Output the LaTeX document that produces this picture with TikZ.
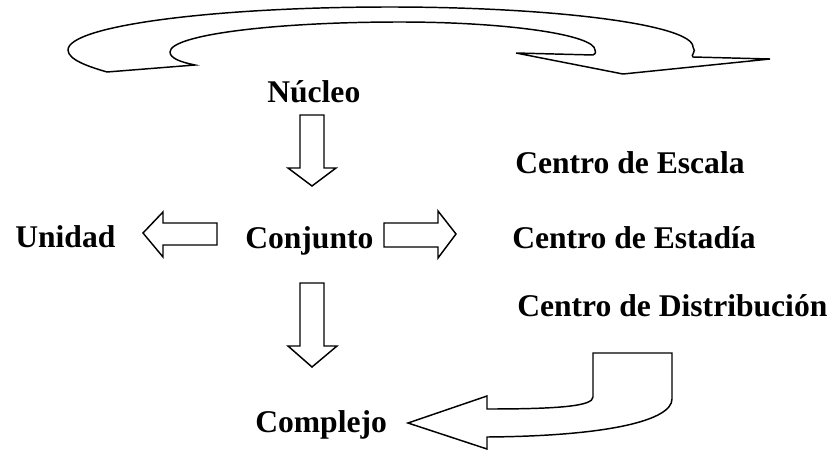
\documentclass[tikz,border=0pt]{standalone}
\usepackage{fontspec}
\setmainfont{Liberation Serif}
\tikzset{
	etiqueta/.style={font=\fontsize{23.7}{28}\selectfont\bfseries, inner sep=0pt, anchor=base west},
	flecha/.style={draw=black, fill=white, line width=1.1pt, line join=miter}
}
\begin{document}
\begin{tikzpicture}[x=0.75pt, y=-0.75pt]
	\useasboundingbox (0,0) rectangle (835,450);
	
	%Textos
	\node[etiqueta] (nucleo) at (267,102) {Núcleo};
	\node[etiqueta] (conjunto) at (245,248) {Conjunto};
	\node[etiqueta] (unidad) at (15,247) {Unidad};
	\node[etiqueta] (complejo) at (255,432) {Complejo};
	\node[etiqueta] (escala) at (515,173) {Centro de Escala};
	\node[etiqueta] (estadia) at (512,248) {Centro de Estadía};
	\node[etiqueta] (distribucion) at (517,316) {Centro de Distribución};
	
	%Flecha curva arriba
	\draw[flecha] (107,72) .. controls (90,67) and (68,60) .. (68,50)
		.. controls (68,26) and (212,7) .. (390,7)
		.. controls (557,7) and (693,25) .. (693,47)
		.. controls (697,52) and (690,55) .. (693,57)
		-- (770,59) -- (623,74) -- (516,53) -- (593,55)
		.. controls (597,53) and (595,51) .. (595,50)
		.. controls (595,35) and (508,22) .. (400,22)
		.. controls (273,22) and (170,35) .. (170,52)
		.. controls (170,58) and (180,62) .. (195,65) -- cycle;
	
	%Flechas rectas
	\draw[flecha] (300,115) -- (324,115) -- (324,168) -- (336,168) -- (312,186) -- (288,168) -- (300,168) -- cycle;
	\draw[flecha] (300,283) -- (324,283) -- (324,346) -- (337,346) -- (312,367) -- (288,346) -- (300,346) -- cycle;
	\draw[flecha] (384,223) -- (438,223) -- (438,211) -- (456,234) -- (438,258) -- (438,247) -- (384,247) -- cycle;
	\draw[flecha] (217,223) -- (163,223) -- (163,212) -- (143,233) -- (163,257) -- (163,245) -- (217,245) -- cycle;
	
	%Flecha doblada abajo
	\draw[flecha] (593,353) -- (672,353) -- (672,399)
		.. controls (672,420) and (610,436) .. (487,437)
		-- (487,449) -- (408,423) -- (487,396) -- (487,409)
		.. controls (560,409) and (593,406) .. (593,397) -- cycle;
\end{tikzpicture}
\end{document}
